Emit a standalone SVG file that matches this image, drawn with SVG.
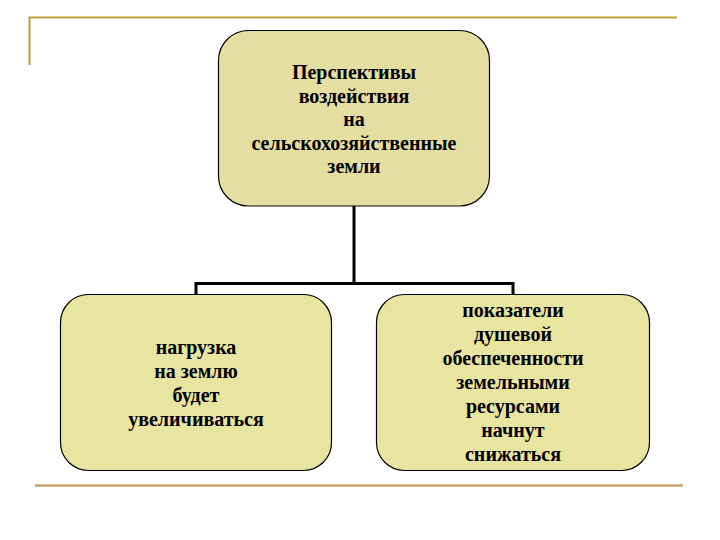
<svg xmlns="http://www.w3.org/2000/svg" width="720" height="540" viewBox="0 0 720 540">
<style>
.box{stroke:#000;stroke-width:1.2}
.top{fill:#E5DEA1}
.low{fill:#E8E5A1}
.conn{fill:none;stroke:#000;stroke-width:3}
.t{font-family:'Liberation Serif','Times New Roman','DejaVu Serif',serif;font-weight:700;font-size:20px;fill:#000;text-anchor:middle}
</style>
<rect width="720" height="540" fill="#fff"/>
<g id="frame">
<path d="M29.5 65 V17.5 H677" fill="none" stroke="#B5A33A" stroke-width="2"/>
<line x1="35" y1="485.5" x2="683" y2="485.5" stroke="#C7A466" stroke-width="2.5"/>
</g>
<g id="connectors">
<path class="conn" d="M354 206 V283.5"/>
<path class="conn" d="M196 295 V283.5 H513 V295"/>
</g>
<g id="root">
<rect class="box top" x="218.5" y="30.5" width="271" height="175.5" rx="30"/>
<text class="t" x="354" y="79">Перспективы</text>
<text class="t" x="354" y="102.5">воздействия</text>
<text class="t" x="354" y="126">на</text>
<text class="t" x="354" y="149.5">сельскохозяйственные</text>
<text class="t" x="354" y="173">земли</text>
</g>
<g id="left">
<rect class="box low" x="60.5" y="294.5" width="271" height="176" rx="28"/>
<text class="t" x="196" y="354">нагрузка</text>
<text class="t" x="196" y="378">на землю</text>
<text class="t" x="196" y="402">будет</text>
<text class="t" x="196" y="426">увеличиваться</text>
</g>
<g id="right">
<rect class="box low" x="376.5" y="294.5" width="273" height="176" rx="28"/>
<text class="t" x="513" y="317">показатели</text>
<text class="t" x="513" y="341">душевой</text>
<text class="t" x="513" y="365">обеспеченности</text>
<text class="t" x="513" y="389">земельными</text>
<text class="t" x="513" y="413">ресурсами</text>
<text class="t" x="513" y="437">начнут</text>
<text class="t" x="513" y="461">снижаться</text>
</g>
</svg>
